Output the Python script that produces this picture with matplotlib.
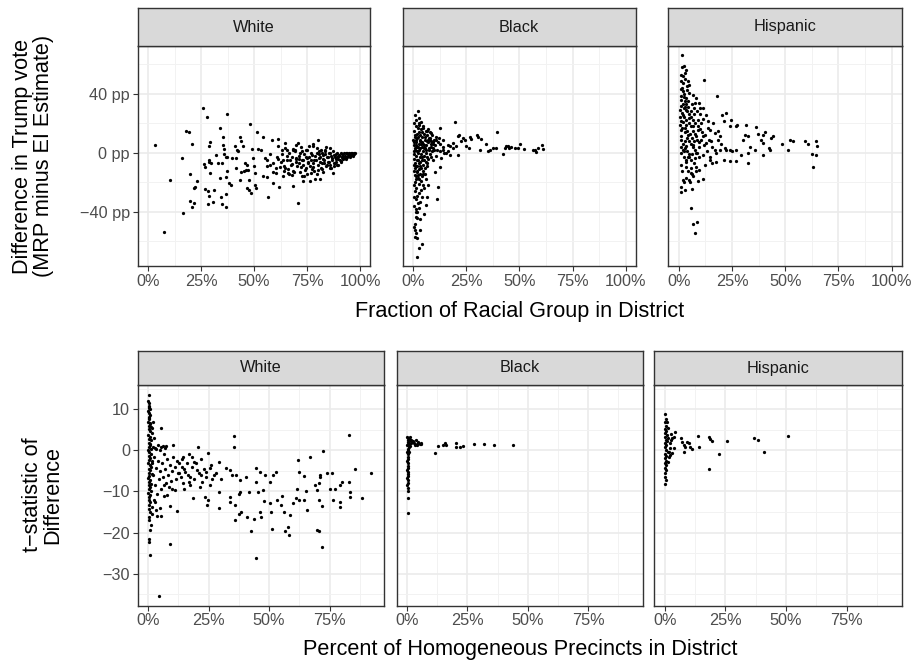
import numpy as np
import matplotlib.pyplot as plt
from matplotlib.ticker import FixedLocator

plt.rcParams['font.family'] = ['Liberation Sans', 'DejaVu Sans']

W, H = 919, 664

groups = ["White", "Black", "Hispanic"]

# Fraction of group in district (%) vs. MRP minus EI difference (pp)
white_diff = [
    (3.5, 5.2), (7.7, -53.8), (10.4, -18.3), (15.9, -3.2), (16.7, -40.9), (17.8, 15.1),
    (19.5, 14.2), (20.6, 6.3), (19.8, -14), (23, -18.8), (22.2, -22.8), (21.7, -23.5),
    (19.8, -32.5), (21.7, -33.7), (20.6, -36.4), (25.8, 30.5), (27.8, 24), (26.4, -7.5),
    (27, -9.5), (28.6, -5), (28.6, -6.1), (29.2, 7), (28.8, 4.3), (29.4, -13.8),
    (29.7, -7.2), (27, -24.4), (28.5, -26), (31.1, -25.5), (28.8, -28.9), (28.1, -34.4),
    (30.7, -33), (33.8, 17), (35.4, 10.8), (37.4, 26), (32.1, -1.4), (33.2, -6.6),
    (35.5, 5.2), (35.7, -0.9), (36, 2.7), (34.7, -6.8), (36.9, -2.7), (37.4, -2.5),
    (37.1, -12.4), (36.8, -16.5), (33.9, -17.2), (34.4, -29.8), (34.9, -34.4), (36.8, -36.4),
    (36.6, -27.8), (39.2, -21.7), (38.4, -20.6), (39.5, -3.2), (41.2, 4.7), (42.1, 2),
    (43.4, 10.6), (43.9, 8.1), (45, 4.7), (41.5, -3.6), (42.6, 0.9), (41.5, -10.6),
    (43.9, -13.3), (43.4, -18.3), (45.1, -12.2), (45.8, -6.8), (46.4, -11.5), (46.9, -23.5),
    (47.8, -24.9), (48.4, -27.3), (48.1, 19.2), (49.2, 2.5), (46.5, -8.1), (47.3, -11.5),
    (47.6, -18.3), (49.7, -3.6), (50.2, -8.8), (50.6, -13.8), (50.5, -21.7), (50.9, -23.7),
    (51.6, 13.8), (52, 2.5), (53.3, 2), (54.1, 11), (54.4, -15.4), (55.2, -3.6),
    (56, -4.7), (56.4, -29.6), (56, -16.5), (57.5, -8.1), (58.3, 8.8), (59.1, -12.7),
    (59.1, -20.6), (60.2, -13.8), (60.7, -2.5), (61.2, 9.3), (61.5, 4.7), (61.8, -22.8),
    (62.3, -9.3), (63, 2), (63.8, -4.7), (63.5, -16), (64.6, 6.6), (64.6, -10.4),
    (65.4, 2), (65.7, -2), (66.2, -13.8), (67, -4.7), (67.8, -7.5), (68.2, 2.5),
    (68.6, -22.4), (69, -12.7), (69.3, 2), (69.8, -3.6), (70.6, -33.9), (70.9, 6.6),
    (71.2, -7), (71.7, -0.2), (72, -9.3), (72.5, -15.6), (73, -19.4), (73.3, -4.7),
    (74, -11.5), (74.5, 2), (74.8, -3.2), (75.6, -7), (76.1, 4.7), (76.4, -19.4),
    (76.9, -13.8), (77.2, -1.4), (77.7, 4.3), (78, -9.3), (78.5, -4.7), (78.9, -17.9),
    (79.6, -0.2), (80, 8.4), (80.3, -11.5), (80.8, -3.6), (81.1, -17.4), (81.4, 2),
    (81.9, -7), (82.4, -1.4), (82.7, -12.7), (83.2, -4.7), (83.6, 0.9), (84.3, -8.1),
    (84.7, -2.5), (85.4, -5.9), (85.8, -0.2), (86.3, -10.4), (86.8, -3.6), (87.1, -13.8),
    (87.7, -1.4), (88.2, -7), (88.7, -4.3), (89.3, -2.5), (89.8, -8.1), (90.3, -1.4),
    (90.9, -5.2), (91.5, -2.9), (92.1, -2), (92.9, -3.6), (93.4, -0.2), (94, -2.5),
    (94.7, -1.4), (95.3, -0.7), (95.9, -0.2), (96.5, -0.9), (97.2, -1.1), (97.6, -0.2),
    (62.5, -6), (63.2, -1), (64.0, -9), (64.8, 3), (65.5, -5), (66.1, -11),
    (66.7, 0), (67.3, -8), (68.0, -3), (68.6, -12), (69.2, 1), (69.9, -6),
    (70.4, -9), (71.0, -2), (71.6, -13), (72.1, 4), (72.7, -5), (73.2, -8),
    (73.8, -1), (74.3, -10), (74.9, 2), (75.4, -6), (76.0, -3), (76.5, -9),
    (77.0, 0), (77.6, -7), (78.1, -12), (78.6, -2), (79.1, -5), (79.7, 3),
    (80.2, -8), (80.7, -1), (81.2, -6), (81.7, -10), (82.2, 0), (82.7, -4),
    (83.1, -7), (83.6, 2), (84.1, -9), (84.5, -3), (85.0, -6), (85.4, 0),
    (85.9, -8), (86.3, -2), (86.8, -5), (87.2, 1), (87.6, -7), (88.1, -3),
    (88.5, -1), (88.9, -6), (89.3, 0), (89.7, -4), (90.1, -2), (90.5, -5),
    (90.9, 0), (91.3, -3), (91.7, -1), (92.1, -4), (92.5, 0), (92.9, -2),
    (93.3, -3), (93.7, 0), (94.1, -1), (94.5, -2), (94.9, 0), (95.3, -2),
    (95.7, -1), (96.1, 0), (96.5, -2), (96.8, -1), (97.1, 0), (66.5, -14),
    (70.0, 5), (75.0, -14), (78.0, 6), (82.0, -11), (86.0, 3), (68.3, 2),
    (73.5, -16), (79.5, -14), (84.0, 4), (71.3, -4), (76.8, -5), (81.0, -3),
    (83.4, -1), (87.9, -9), (91.1, -6), (93.5, -4), (95.5, -3), (64.3, -12),
    (67.7, -15), (69.6, -4), (72.5, 1), (74.6, -3), (77.3, -11), (80.5, 1),
    (85.6, -10), (89.0, -8), (60.5, -10), (61.5, -4), (59.0, -7), (57.5, -1),
    (56.0, -9),
]

black_diff = [
    (1.9, -70.3), (2.5, -64.6), (3.9, -61.7), (1.6, -57.9), (0.9, -56.7), (1.3, -54.5),
    (0.6, -49.9), (3.1, -52.2), (1.3, -43.2), (1.1, -39.8), (2.8, -37.5), (5, -41.4),
    (5.8, -35.3), (6.3, -30.1), (11.4, -31.2), (11.7, -23.3), (7, -21.7), (2.3, 28.5),
    (0.9, 25.8), (2.8, 23.3), (2.8, 20.1), (19.5, 21), (12.5, 16.7), (39.5, 13.8),
    (21.6, 12.2), (26.6, 10.4), (30, 11.8), (30.5, 10.4), (32, 9.5), (31.3, 1.6),
    (34.4, 6.1), (35.2, 1.4), (35.9, 2), (37.5, 3.2), (39, 3.6), (42.2, -0.7),
    (43, 3.2), (43.8, 4.3), (44.5, 4.7), (45.3, 3.6), (46.1, 3.8), (48.1, 3.2),
    (49.2, 3.2), (50.3, 6.1), (52.3, 2.5), (56.3, 1.6), (57.5, 2), (58.6, 3.2),
    (60.5, 5.4), (61.3, 2.5), (57.8, 0.5), (21.1, -1.4), (16.4, 1.4), (17.2, 4.3),
    (18.8, 6.6), (20.3, 4.3), (22.7, 7.7), (24.2, 8.8), (25, 4.7), (26.3, 3.2),
    (21.1, 11.1), (23.4, 9.9), (27.3, 9.5), (14.1, 8.8), (15.6, -0.2), (13.3, -3.6),
    (12.5, -9.3), (10.2, -12.7), (9.4, -4.7), (10.9, 8.8), (8.6, 13.3), (6.3, 14.5),
    (4.7, 16.7), (7.8, 8.8), (14.1, 2), (17.2, -1.4),
    (0.5, 15), (1.0, 12), (1.5, 18), (2.0, 10), (2.5, 14), (3.0, 8), (3.5, 16), (4.0, 11),
    (4.5, 6), (5.0, 13), (5.5, 9), (6.0, 5), (6.5, 12), (7.0, 7), (7.5, 3), (8.0, 10),
    (0.3, 5), (0.8, 2), (1.2, 7), (1.7, 4), (2.2, 0), (2.7, 6), (3.2, 3), (3.7, -1),
    (4.2, 4), (4.7, 1), (5.2, -2), (5.7, 3), (6.2, 0), (6.7, -3), (7.2, 2), (7.7, -1),
    (8.5, 4), (9.0, 1), (9.5, 6), (10.0, 2),
    (0.4, -4), (0.9, -7), (1.4, -2), (1.9, -9), (2.4, -5), (2.9, -11), (3.4, -6), (3.9, -3),
    (4.4, -8), (4.9, -5), (5.4, -10), (5.9, -6), (6.4, -9), (7.0, -4),
    (0.2, -12), (0.7, -15), (1.1, -18), (1.6, -13), (2.1, -17), (2.6, -21), (3.1, -14),
    (3.6, -19), (4.1, -16), (4.6, -12), (5.1, -24), (5.6, -14), (6.1, -18),
    (0.5, -22), (1.0, -26), (1.5, -24), (2.0, -29), (2.5, -27), (3.0, -33), (3.5, -25),
    (4.0, -30), (4.5, -22), (0.6, -36), (1.2, -31), (1.8, -40), (2.3, -34), (3.3, -45),
    (0.4, 20), (1.3, 22), (2.1, 17), (2.9, 19), (3.8, 21), (4.8, 18), (5.8, 15), (6.8, 16),
    (7.8, 14), (8.8, 12), (9.8, 9), (10.8, 11), (11.8, 7), (12.8, 6), (13.8, 4),
    (0.1, 9), (0.6, -1), (1.0, 3), (1.8, 1), (2.6, 2), (3.3, 9), (4.3, 7), (5.3, 5),
    (6.3, 8), (7.3, 10), (8.3, 6), (9.3, 3), (10.3, 5), (11.3, 2), (12.3, 10),
    (1.3, -9), (2.8, -7), (4.6, -14), (6.6, -7), (8.6, -3), (10.6, -2), (12.6, 1),
    (14.6, 0), (16.6, 5), (18.6, 3), (1.0, -48), (0.8, -52), (2.0, -44), (1.5, -38),
    (0.3, -30), (0.9, -20), (2.2, -15), (3.8, -10),
    (0.7, 11), (1.9, 13), (3.1, 12), (4.1, 14), (5.6, 11), (6.9, 9), (8.2, 8), (9.1, 7),
    (1.1, 5), (2.3, 4), (3.6, 6), (4.9, 3), (6.1, 2), (1.6, -5), (3.0, -3), (4.3, -5),
    (0.8, -10), (2.0, -12), (3.3, -9), (1.4, -16), (2.7, -18), (0.6, 7), (1.4, 9),
    (2.4, 11), (0.3, 1), (0.2, -8),
]

hispanic_diff = [
    (1.4, 66), (3.5, 56.3), (2.7, 54), (1.9, 51.8), (11.6, 49), (18.1, 38.4),
    (1.1, 48.4), (4.2, 48.4), (5, 46.1), (22.3, 26.9), (20.4, 25.3), (24.4, 21.9),
    (21.1, 21.2), (27.4, 19), (26.7, 18.3), (23.9, 17.9), (31.4, 18.5), (36.2, 17.4),
    (37.4, 12.9), (40.4, 13.8), (39.6, 12.2), (44.3, 11.1), (43.5, 9.9), (38.8, 8.8),
    (39.6, 6.6), (42.5, 3.2), (42.8, 2), (39.6, -1.6), (48.3, 6.1), (52.2, 8.4),
    (53.5, 7.7), (51.4, 2), (59.3, 7.7), (60.5, 6.1), (64.3, 7.7), (64.8, 4.7),
    (62.4, -0.7), (64.5, -1.4), (63.2, -9.7), (31, 12.2), (32.5, 11.1), (30.2, 8.8),
    (33.3, 3.8), (35.7, 2), (32.5, -0.2), (32.7, -7), (29.4, -1.4), (26.7, 2),
    (25.2, 0.9), (23.9, 2), (22.3, 2), (27, -5.2), (23.9, -5.2), (21, -4.7),
    (17.6, -5.9), (15.7, -7), (14.5, -4.7), (12.1, -8.1), (9.7, -11.5), (11.3, -17.9),
    (9, -19.4), (6.6, -15.6), (6.3, -24.6), (5, -18.3), (1.1, -22.8), (1.1, -26.2),
    (2.7, -25.5), (1.9, -18.3), (5.5, -37.5), (6.6, -48.4), (8.5, -46.8), (7.7, -54),
    (1.1, -8.1), (3.5, -9.3), (5.8, -10.4), (8.2, -9.3), (7.4, -3.6), (5, -2.5),
    (1.9, 2), (3.5, 4.3), (6.6, 5.4), (9.7, 3.8), (12.9, 6.6), (15.3, 7.7),
    (18.4, 8.8), (19.2, 11.1), (16.8, 13.3), (14.5, 15.6), (13.7, 21.2), (12.6, 25.8),
    (11.3, 30.3), (9.4, 33.7), (8.2, 37.1), (6.6, 39.3), (5, 40.5), (1.9, 41.6),
    (3.8, 42.7), (1.1, 38.2), (2.7, 34.8), (1.1, 31.4), (3.5, 29.2), (1.9, 25.8),
    (5, 23.5), (1.1, 21.2), (3.5, 19), (6.6, 17.9), (9, 15.6), (1.1, 15.6),
    (4.2, 12.2), (8.2, 11.1), (11.3, 11.1), (1.1, 11.1), (2.7, 7.7), (8.2, -0.2),
    (11.3, -1.4), (14.5, -2.5), (17.6, -0.2), (19.5, 2), (3.5, -4.7), (5.8, -13.8),
    (3.5, -17.2),
    (1.5, 44), (2.5, 40), (3.5, 37), (4.5, 35), (6.0, 33), (7.0, 30), (8.5, 28), (10.0, 26),
    (11.5, 23), (0.8, 36), (1.8, 33), (2.8, 31), (3.8, 28), (4.8, 26), (5.8, 24), (6.8, 22),
    (7.8, 20), (8.8, 18), (9.8, 16), (0.6, 29), (1.6, 27), (2.6, 24), (3.6, 22), (4.6, 20),
    (5.6, 18), (6.6, 15), (7.6, 13), (8.6, 9), (9.6, 7), (0.7, 19), (1.7, 17), (2.7, 14),
    (3.7, 10), (4.7, 8), (5.7, 6), (6.7, 4), (7.7, 2), (8.7, 0), (9.7, -3), (0.9, 9),
    (1.9, 6), (2.9, 3), (3.9, 1), (4.9, -1), (5.9, -5), (6.9, -7), (7.9, -12), (1.2, 0),
    (2.2, -3), (3.2, -6), (4.2, -12), (5.2, -20), (6.2, -14), (12.5, 12), (14.0, 9),
    (15.5, 4), (17.0, 2), (18.5, 15), (20.0, 6), (21.5, 3), (16.0, 20), (13.5, 17),
    (10.5, 20), (11.0, 14), (12.0, 5), (2.0, 47), (3.0, 50), (4.0, 45), (1.0, 53),
    (2.4, 30), (5.5, 28), (7.2, 26), (9.2, 22),
    (0.9, 43), (2.2, 38), (3.2, 33), (4.4, 31), (0.7, 24), (2.0, 21), (3.0, 17), (4.0, 15),
    (5.2, 13), (6.2, 10), (7.2, 8), (0.8, 4), (2.4, 1), (4.4, -3), (6.4, -1), (1.5, -12),
    (2.6, -20), (1.3, 58), (2.3, 59), (7.4, 34), (9.9, 30), (10.4, 9), (13.0, 1),
]

# Share of homogeneous precincts (%) vs. t-statistic of the difference
white_tstat = [
    (0.3, 13.4), (0.3, 10.9), (0.4, 10.2), (0.5, 7.8), (0.7, 6.6), (5.4, 5.4),
    (35.7, 3.5), (35.4, 0.7), (82.9, 3.7), (72.3, -0.1), (67.1, -1.5), (62, -2.4),
    (20.5, 0.8), (24.8, -0.7), (10.2, 1.3), (7.6, 1.1), (5.4, 0.7), (3.4, 0.3),
    (29.2, -2.8), (32.2, -4.4), (34, -4.8), (34.7, -5.9), (36.5, -6), (37.9, -7.2),
    (40.6, -6.5), (44.8, -4.4), (46.1, -5.2), (48.2, -6), (50.3, -7.8), (51.6, -6),
    (53, -5.2), (85.4, -4.6), (91.9, -5.4), (88.4, -11.7), (83.2, -7.6), (83.3, -10.1),
    (83.3, -11.3), (80.2, -7.6), (79.5, -8.5), (77.4, -9.4), (75.1, -9.3), (74, -5.4),
    (76, -5.4), (71.2, -5.9), (71.2, -6.4), (70.5, -8), (69.8, -9.7), (69.1, -8.5),
    (70.5, -12.1), (71.9, -13.5), (69.8, -19.4), (70.5, -19.6), (71.9, -23.6), (76.3, -12.1),
    (79.2, -12.5), (79.5, -13.9), (65.4, -9.9), (65.7, -14.6), (64.3, -12.1), (64.6, -6.3),
    (62.2, -5.2), (61.6, -9.3), (62.2, -12.1), (59.9, -12.9), (61.3, -11.7), (58.8, -15.8),
    (57.8, -18.6), (56.7, -19.7), (58.1, -20.5), (56.3, -15), (55.4, -11.1), (55, -13.3),
    (53.3, -12.1), (51.2, -19.2), (50.6, -15), (50.3, -12.9), (47.8, -12.4), (47.5, -9.7),
    (46.4, -15), (46.8, -16.3), (44.8, -26.3), (43.9, -16.6), (44.8, -7.6), (45.5, -10.2),
    (42.6, -19.6), (40.9, -16.2), (41.6, -10.2), (38.1, -10.2), (38.4, -15), (37.5, -15.4),
    (36.1, -17), (37.5, -10.5), (34, -11.3), (33.7, -12.5), (35.8, -13.3), (29.2, -14),
    (29.2, -10.1), (24.8, -12.1), (24.4, -13.2), (23.7, -11.3), (25.8, -8.5), (26.4, -7),
    (27.1, -6), (25.8, -4.4), (24.1, -5.2), (22.3, -7.6), (21.9, -6), (21.3, -8.9),
    (20.2, -4.8), (18.9, -2.9), (18.2, -1.5), (17.5, -6.4), (17.2, -8.5), (18.6, -11.5),
    (17, -7.8), (15.4, -5.2), (14.5, -1.5), (14, -4), (14.7, -9.3), (12.7, -5.6),
    (12, -14.8), (11.3, -9.7), (9.2, -13.6), (9.2, -22.9), (9.9, -9.3), (7.8, -10.9),
    (6.5, -8.5), (5.1, -14.1), (5.4, -15.9), (3.7, -15.9), (4.4, -35.5), (1, -25.5),
    (0.6, -21.5), (0.3, -22.3), (1.2, -18.2), (0.7, -19.4), (0.3, -16.2), (1, -15),
    (1.7, -13.7),
    (0.2, 12.0), (0.3, 11.5), (0.4, 10.5), (0.2, 9.5), (0.5, 9.0), (0.3, 8.2), (0.6, 7.6),
    (0.2, 7.0), (0.8, 6.5), (0.4, 6.0), (1.2, 5.8), (0.3, 5.2), (0.7, 4.6), (1.5, 4.3),
    (0.2, 3.8), (0.9, 3.3), (0.5, 2.8), (1.3, 2.4), (0.3, 1.9), (0.8, 1.4), (0.4, 0.9),
    (1.1, 0.4), (0.2, 0.0), (0.6, -0.5), (1.4, -0.9), (0.3, -1.4), (0.9, -1.8), (0.5, -2.3),
    (1.6, -2.7), (0.2, -3.1), (0.7, -3.6), (1.2, -4.0), (0.4, -4.5), (0.9, -4.9), (0.3, -5.4),
    (1.5, -5.8), (0.6, -6.3), (0.2, -6.7), (1.0, -7.2), (0.5, -7.6), (1.3, -8.1), (0.3, -8.5),
    (0.8, -9.0), (0.4, -9.4), (1.1, -9.9), (0.2, -10.3), (0.7, -10.8), (0.5, -11.3),
    (0.3, -12.0), (0.9, -12.6), (0.4, -13.3), (0.6, -14.2), (1.8, -3.0), (2.2, -6.0),
    (2.5, -1.5), (2.8, -8.5), (3.2, -4.2), (3.6, -10.5), (4.0, -2.5), (4.4, -7.0), (2.0, 0.8),
    (3.0, -12.5), (4.8, -5.0), (5.2, -9.5), (5.6, -3.0), (6.0, -6.5), (6.4, -1.0),
    (6.8, -11.0), (7.2, -4.5), (7.6, -8.0), (8.0, -2.0), (8.4, -6.0), (8.8, -9.0),
    (9.2, -3.5), (9.6, -7.5), (10.0, -5.0), (10.5, -1.5), (11.0, -4.0), (11.5, -7.0),
    (12.0, -2.5), (12.5, -5.5), (13.0, -3.0), (13.5, -6.5), (14.0, -2.0), (14.5, -8.0),
    (15.0, -4.5), (16.0, -3.0), (16.5, -6.0), (17.0, -1.0), (18.0, -4.0), (19.0, -7.0),
    (20.0, -3.0), (21.0, -5.5), (22.0, -2.0), (23.0, -4.5), (24.0, -6.5), (26.0, -3.5),
    (28.0, -5.5), (30.0, -7.0), (1.5, -15.5), (2.5, -12.0), (3.5, -14.5), (0.5, -17.0),
    (1.0, 1.5), (2.3, 3.0), (3.0, 0.5), (4.2, 1.2), (5.0, 0.0), (1.8, 5.5), (2.2, 6.8),
    (1.0, 8.5), (0.8, 10.0), (6.0, 1.0), (7.0, 0.5),
]

black_tstat = [
    (0.2, 3.2), (0.5, 3.0), (0.8, 2.8), (1.2, 2.6), (0.3, 2.4), (1.6, 2.5), (2.0, 2.2),
    (0.6, 2.0), (2.4, 2.3), (0.4, 1.6), (1.0, 1.8), (2.8, 1.9), (0.2, 1.2), (0.7, 0.8),
    (1.4, 1.0), (0.3, 0.4), (0.5, 0.0), (0.2, -0.5), (0.6, -1.0), (0.3, -1.5), (0.4, -2.0),
    (0.2, -2.6), (0.5, -3.1), (0.3, -3.7), (0.4, -4.2), (0.2, -4.8), (0.5, -5.3), (0.3, -5.8),
    (0.4, -6.3), (0.2, -6.8), (0.3, -7.3), (0.4, -7.9), (0.2, -8.5), (0.3, -9.2), (0.3, -10.0),
    (0.3, -11.7), (0.3, -15.2), (3.3, 1.6), (4.0, 1.4), (4.6, 2.0), (5.2, 1.5), (5.8, 1.7),
    (3.6, 2.5), (1.0, -0.3), (1.3, 3.3), (0.9, 1.3), (1.8, 1.7), (3.2, 1.3), (4.5, 1.7),
    (5.6, 1.5), (11.4, -0.6), (12.8, 1.1), (14.9, 1.3), (15.6, 1.7), (16.3, 1.3),
    (20.4, 1.7), (20.4, 0.7), (21.8, 0.9), (23.1, 1.1), (27.9, 1.6), (31.8, 1.5),
    (36.2, 1.2), (44.1, 1.4),
]

hispanic_tstat = [
    (0.2, 8.9), (0.4, 7.6), (0.3, 6.8), (0.5, 6.0), (0.2, 5.3), (0.6, 4.8), (0.3, 4.2),
    (0.8, 3.8), (0.2, 3.2), (0.5, 2.6), (1.0, 2.2), (0.3, 1.7), (0.7, 1.2), (0.2, 0.7),
    (0.4, 0.2), (1.2, -0.3), (0.3, -0.8), (0.6, -1.4), (0.2, -1.9), (0.5, -2.5), (0.3, -3.0),
    (0.4, -3.6), (0.2, -4.2), (0.5, -4.8), (0.3, -5.5), (0.3, -6.4), (0.4, -7.2), (0.3, -8.3),
    (1.5, 3.0), (2.0, 1.8), (2.5, 4.0), (1.8, -0.5), (2.2, 0.5), (1.2, 5.5), (0.9, 7.0),
    (4.4, 4.4), (3.7, 3.3), (3.0, 2.9), (2.8, 2.5), (6.9, 2.9), (7.2, 2.1), (7.9, 1.3),
    (8.3, 0.9), (9.2, 2.1), (9.9, 1.7), (10.6, 0.9), (11.3, 0.3), (13.6, 3.6), (14.0, 0.7),
    (18.2, 3.3), (18.5, 2.8), (19.6, 2.3), (18.2, -4.6), (22.2, -0.8), (25.5, 2.3),
    (36.8, 2.9), (38.6, 2.4), (40.8, -0.5), (50.7, 3.6), (7.9, -0.3), (3.7, 0.5),
    (3.0, -0.7), (2.3, -1.1), (1.9, -1.5), (1.4, -2.9),
]

top_data = [white_diff, black_diff, hispanic_diff]
bottom_data = [white_tstat, black_tstat, hispanic_tstat]

top_yticks = [-40, 0, 40]
top_ylabels = ["\u221240 pp", "0 pp", "40 pp"]
bottom_yticks = [-30, -20, -10, 0, 10]
bottom_ylabels = ["\u221230", "\u221220", "\u221210", "0", "10"]

TICK_GREY = "#4D4D4D"
EDGE = "#333333"
DOT_SIZE = 5.5

fig = plt.figure(figsize=(W / 100, H / 100), dpi=100)


def add_px_axes(l, t, r, b):
    return fig.add_axes([l / W, 1 - b / H, (r - l) / W, (b - t) / H])


def style_panel(ax, xlim, ylim, xticks, xminor, yticks, yminor, ylabels, show_y):
    ax.set_xlim(*xlim)
    ax.set_ylim(*ylim)
    ax.set_axisbelow(True)
    ax.xaxis.set_major_locator(FixedLocator(xticks))
    ax.xaxis.set_minor_locator(FixedLocator(xminor))
    ax.yaxis.set_major_locator(FixedLocator(yticks))
    ax.yaxis.set_minor_locator(FixedLocator(yminor))
    ax.set_xticklabels([f"{t:g}%" for t in xticks])
    ax.grid(which="major", color="#EBEBEB", linewidth=1.2)
    ax.grid(which="minor", color="#F2F2F2", linewidth=0.7)
    ax.tick_params(which="major", length=3.5, width=0.8, color=EDGE,
                   labelsize=11.7, labelcolor=TICK_GREY, pad=2)
    ax.tick_params(which="minor", length=0)
    if show_y:
        ax.set_yticklabels(ylabels)
    else:
        ax.tick_params(axis="y", which="major", length=0, labelleft=False)
    for s in ax.spines.values():
        s.set_color(EDGE)
        s.set_linewidth(1.0)


def add_strip(l, t, r, b, label):
    sax = add_px_axes(l, t, r, b)
    sax.set_facecolor("#D9D9D9")
    sax.set_xticks([])
    sax.set_yticks([])
    for s in sax.spines.values():
        s.set_color(EDGE)
        s.set_linewidth(1.0)
    sax.text(0.5, 0.5, label, ha="center", va="center", fontsize=11.7,
             color="#1A1A1A", transform=sax.transAxes)


# top row: difference in Trump vote share
top_left = [137.5, 402.7, 668.3]
top_right = [370.0, 635.7, 901.7]
for i, g in enumerate(groups):
    ax = add_px_axes(top_left[i], 45.7, top_right[i], 266)
    pts = np.array(top_data[i])
    ax.scatter(pts[:, 0], pts[:, 1], s=DOT_SIZE, color="black", linewidths=0, zorder=3)
    style_panel(ax, (-4.95, 104.7), (-76.6, 72.5), [0, 25, 50, 75, 100],
                [12.5, 37.5, 62.5, 87.5], top_yticks, [-60, -20, 20, 60],
                top_ylabels, i == 0)
    add_strip(top_left[i], 8.3, top_right[i], 45.7, g)

# bottom row: t-statistic of the difference
bot_left = [137.7, 396.7, 654.3]
bot_right = [384.3, 642.7, 901.7]
for i, g in enumerate(groups):
    ax = add_px_axes(bot_left[i], 385, bot_right[i], 605.7)
    pts = np.array(bottom_data[i])
    ax.scatter(pts[:, 0], pts[:, 1], s=DOT_SIZE, color="black", linewidths=0, zorder=3)
    style_panel(ax, (-4.26, 97.6), (-37.8, 15.9), [0, 25, 50, 75],
                [12.5, 37.5, 62.5, 87.5], bottom_yticks, [-35, -25, -15, -5, 5, 15],
                bottom_ylabels, i == 0)
    add_strip(bot_left[i], 351, bot_right[i], 385, g)

fig.text(519.6 / W, 1 - 311 / H, "Fraction of Racial Group in District",
         ha="center", va="center", fontsize=15.6)
fig.text(519.7 / W, 1 - 650 / H, "Percent of Homogeneous Precincts in District",
         ha="center", va="center", fontsize=15.6)
fig.text(33 / W, 1 - 156 / H, "Difference in Trump vote\n(MRP minus EI Estimate)",
         ha="center", va="center", rotation=90, fontsize=15.6, linespacing=0.95)
fig.text(43 / W, 1 - 495 / H, "t\u2212statistic of\nDifference",
         ha="center", va="center", rotation=90, fontsize=15.6, linespacing=0.95)

fig.savefig("out.png", dpi=100)
